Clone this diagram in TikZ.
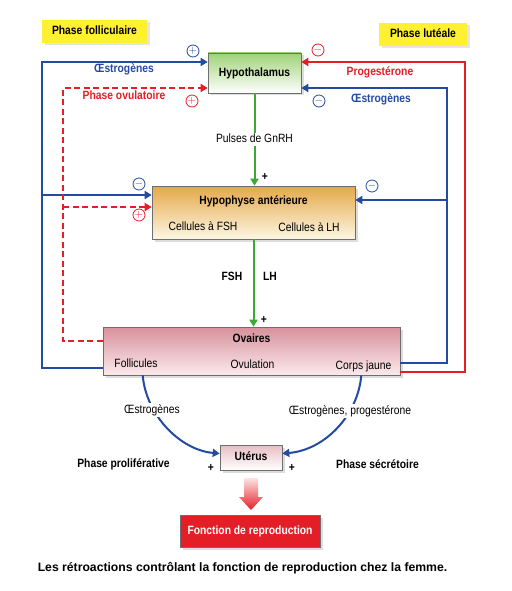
\documentclass[tikz,border=0pt]{standalone}
\usepackage{fontspec}
\setmainfont{Liberation Sans}
\newfontfamily\cond[FakeStretch=0.86]{Liberation Sans}
\usetikzlibrary{positioning,arrows.meta,shadows,calc}

\definecolor{bleu}{RGB}{35,75,160}
\definecolor{rouge}{RGB}{228,30,38}
\definecolor{vert}{RGB}{60,170,50}
\definecolor{jaune}{RGB}{255,240,50}
\definecolor{vertclair}{RGB}{160,210,120}
\definecolor{orange}{RGB}{228,168,72}
\definecolor{creme}{RGB}{253,246,228}
\definecolor{rose}{RGB}{216,145,155}
\definecolor{roseclair}{RGB}{250,234,236}
\definecolor{bord}{RGB}{110,110,110}

\tikzset{
  boite/.style={draw=bord, line width=0.6pt, inner sep=0pt,
    drop shadow={shadow xshift=2.5pt, shadow yshift=-2.5pt, fill=gray!55}},
  etiquette/.style={fill=jaune, inner sep=0pt,
    drop shadow={shadow xshift=2.5pt, shadow yshift=-2.5pt, fill=gray!40}},
  titre/.style={font=\cond\bfseries\fontsize{12}{12}\selectfont, text height=9pt, text depth=2.5pt, inner sep=1pt},
  texte/.style={font=\cond\fontsize{12}{12}\selectfont, text height=9pt, text depth=2.5pt, inner sep=1pt},
  fleche/.style={-{Triangle[length=7pt,width=8pt]}, line width=2pt},
  tirets/.style={dash pattern=on 6pt off 3.5pt},
  signe/.style={circle, draw, line width=0.8pt, minimum size=12pt, inner sep=0pt, font=\fontsize{11}{11}\selectfont},
}

\begin{document}
\begin{tikzpicture}[x=1pt, y=-1pt]
\useasboundingbox (0,0) rectangle (511,591);

% phases
\node[etiquette, titre, minimum width=105pt, minimum height=23pt] (folli) at (94.5,31.5) {Phase folliculaire};
\node[etiquette, titre, minimum width=88pt, minimum height=23pt] (lutea) at (423,34.5) {Phase lutéale};

% boites
\node[boite, titre, top color=vertclair, bottom color=white, minimum width=93pt, minimum height=40pt] (hypo) at (254.5,73) {Hypothalamus};
\node[boite, top color=orange, bottom color=creme, minimum width=203pt, minimum height=53pt] (hypoph) at (253.5,212.5) {};
\node[titre] (hypoph-t) at (253.5,201) {Hypophyse antérieure};
\node[texte] (fsh) at (203,227) {Cellules à FSH};
\node[texte] (lh) at (309,228) {Cellules à LH};
\node[boite, top color=rose, bottom color=roseclair, minimum width=297pt, minimum height=48pt] (ovaires) at (251.5,351) {};
\node[titre] (ovaires-t) at (251.5,339) {Ovaires};
\node[texte] (follicules) at (136,364) {Follicules};
\node[texte] (ovulation) at (252.5,365) {Ovulation};
\node[texte] (corps) at (363.5,366) {Corps jaune};
\node[boite, titre, top color=rose!60, bottom color=white, minimum width=62pt, minimum height=25pt] (uterus) at (251,457.5) {Utérus};
\node[boite, titre, fill=rouge, text=white, minimum width=140pt, minimum height=32pt] (fonction) at (250,531) {Fonction de reproduction};

% axe central
\draw[vert, fleche] (hypo.south) -- (hypo.south |- hypoph.north)
  node[midway, texte, fill=white, text=black] (gnrh) {Pulses de GnRH};
\draw[vert, fleche] (hypoph.south) -- (hypoph.south |- ovaires.north);
\node[titre] (fsh-l) at (232,277) {FSH};
\node[titre] (lh-l) at (270,277) {LH};
\node[titre] at (265,177) {+};
\node[titre] at (264,320) {+};

% retroactions gauche
\draw[bleu, fleche] ([yshift=-17pt]ovaires.west) -| (42,62) -- ([yshift=11pt]hypo.west);
\draw[bleu, fleche] (42,195) -- ([yshift=17.5pt]hypoph.west);
\draw[rouge, fleche, tirets] ([yshift=10pt]ovaires.west) -| (63,88) -- ([yshift=-15pt]hypo.west);
\draw[rouge, fleche, tirets] (63,207) -- ([yshift=5.5pt]hypoph.west);
\node[titre, text=bleu] (oe1) at (124,69) {Œstrogènes};
\node[titre, text=rouge] (ovul) at (124,96) {Phase ovulatoire};

% retroactions droite
\draw[rouge, fleche] ([yshift=-21pt]ovaires.east) -| (465,62) -- ([yshift=11pt]hypo.east);
\draw[bleu, fleche] ([yshift=-12pt]ovaires.east) -| (447,88) -- ([yshift=-15pt]hypo.east);
\draw[bleu, fleche] (447,200) -- ([yshift=12.5pt]hypoph.east);
\node[titre, text=rouge] (proge) at (380,72) {Progestérone};
\node[titre, text=bleu] (oe2) at (381,99) {Œstrogènes};

% signes
\node[signe, bleu] (s1) at (193,51) {$+$};
\node[signe, rouge] (s2) at (192,101) {$+$};
\node[signe, bleu] (s3) at (139,184) {$-$};
\node[signe, rouge] (s4) at (139,215) {$+$};
\node[signe, rouge] (s5) at (318,50) {$-$};
\node[signe, bleu] (s6) at (319,101) {$-$};
\node[signe, bleu] (s7) at (372,186) {$-$};

% vers l'uterus
\draw[bleu, fleche] ([xshift=40pt]ovaires.south west) .. controls (146,415) and (180,450) .. ([yshift=4pt]uterus.west);
\draw[bleu, fleche] ([xshift=-39pt]ovaires.south east) .. controls (358,415) and (325,450) .. ([yshift=4pt]uterus.east);
\node[texte, fill=white] (oe3) at (152,410) {Œstrogènes};
\node[texte, fill=white] (oe4) at (350,411) {Œstrogènes, progestérone};
\node[titre] at (211,468) {+};
\node[titre] at (292,468) {+};
\node[titre] (prolif) at (123.5,464) {Phase proliférative};
\node[titre] (secret) at (377.5,465) {Phase sécrétoire};

% grosse fleche
\shade[top color=rouge!12, bottom color=rouge] (244,478) -- (258,478) -- (258,497) -- (263,497) -- (251,510) -- (239,497) -- (244,497) -- cycle;

% legende
\node[font=\bfseries\fontsize{12.2}{14}\selectfont] (legende) at (242.5,568) {Les rétroactions contrôlant la fonction de reproduction chez la femme.};
\end{tikzpicture}
\end{document}
